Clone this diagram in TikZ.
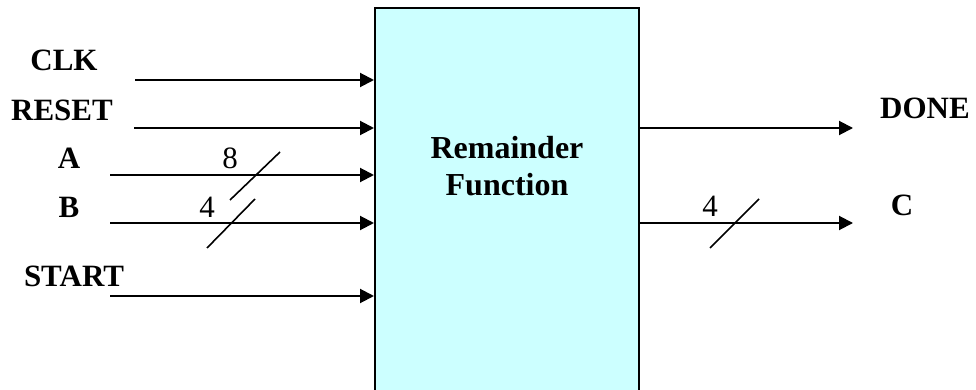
\documentclass[tikz,border=0pt]{standalone}
\usepackage{fontspec}
\setmainfont{Liberation Serif}
\usetikzlibrary{arrows.meta}

\tikzset{
  sig/.style={line width=2pt, -{Triangle[length=14pt,width=14pt]}},
  pinlabel/.style={font=\fontsize{31}{34}\selectfont\bfseries, inner sep=0pt},
  buswidth/.style={font=\fontsize{31}{34}\selectfont, inner sep=0pt},
  busslash/.style={line width=1.6pt},
  block/.style={draw, line width=2pt, fill=blockcyan, minimum width=264pt,
                minimum height=420pt, anchor=north, inner sep=0pt}
}
\definecolor{blockcyan}{HTML}{CCFFFF}

\begin{document}
\begin{tikzpicture}[x=1pt, y=-1pt]
  \useasboundingbox (0,0) rectangle (976,390);
  \clip (0,0) rectangle (976,390);

  % main block (runs off the bottom edge)
  \node[block] (rf) at (507,7) {};
  \node[font=\fontsize{32}{37}\selectfont\bfseries, align=center, inner sep=0pt]
    (title) at (507,166) {Remainder\\Function};

  % input pins
  \coordinate (clkin)   at (135,80);
  \coordinate (rstin)   at (134,128);
  \coordinate (ain)     at (110,175);
  \coordinate (bin)     at (110,223);
  \coordinate (startin) at (110,296);

  \node[pinlabel] (clk)   at (64,60)   {CLK};
  \node[pinlabel] (rst)   at (62,110)  {RESET};
  \node[pinlabel] (a)     at (69,158)  {A};
  \node[pinlabel] (b)     at (69,207)  {B};
  \node[pinlabel] (start) at (74,276)  {START};

  \draw[sig] (clkin)   -- (clkin -| rf.west);
  \draw[sig] (rstin)   -- (rstin -| rf.west);
  \draw[sig] (ain)     -- (ain -| rf.west);
  \draw[sig] (bin)     -- (bin -| rf.west);
  \draw[sig] (startin) -- (startin -| rf.west);

  % bus widths on A and B
  \node[buswidth] (wa) at (230,158) {8};
  \coordinate (sa1) at (230,200);
  \coordinate (sa2) at (280,152);
  \draw[busslash] (sa1) -- (sa2);

  \node[buswidth] (wb) at (207,207) {4};
  \coordinate (sb1) at (207,248);
  \coordinate (sb2) at (255,199);
  \draw[busslash] (sb1) -- (sb2);

  % outputs
  \coordinate (doneout) at (853,128);
  \coordinate (cout)    at (853,223);
  \node[pinlabel] (done) at (925,108) {DONE};
  \node[pinlabel] (c)    at (902,205) {C};

  \draw[sig] (rf.east |- doneout) -- (doneout);
  \draw[sig] (rf.east |- cout) -- (cout);

  \node[buswidth] (wc) at (710,206) {4};
  \coordinate (sc1) at (710,248);
  \coordinate (sc2) at (759,199);
  \draw[busslash] (sc1) -- (sc2);
\end{tikzpicture}
\end{document}
